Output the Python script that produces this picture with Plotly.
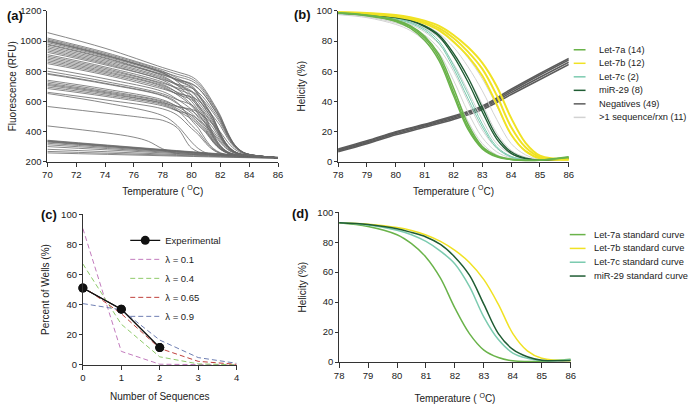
import plotly.graph_objects as go

FONT = "Liberation Sans, Arial, Helvetica, sans-serif"
W, H = 696, 404

# ---------------- Panel (a): raw melt curves (fluorescence) ----------------
T_A_UPPER = [70, 74, 78, 79, 80, 80.5, 81, 81.5, 82, 82.5, 83, 83.5, 84, 86]
RFU_UPPER = [
    [1056, 952, 824, 795, 764, 728, 667, 590, 506, 395, 312, 268, 248, 226],
    [1020, 925, 810, 780, 750, 715, 656, 580, 499, 391, 310, 267, 248, 226],
    [1012, 917, 800, 754, 706, 648, 574, 494, 388, 309, 267, 248, 243, 225],
    [1005, 910, 795, 765, 736, 702, 644, 571, 492, 387, 308, 266, 248, 226],
    [998, 904, 790, 742, 696, 639, 566, 489, 385, 307, 266, 248, 243, 225],
    [990, 898, 785, 737, 691, 634, 563, 486, 383, 307, 266, 248, 243, 225],
    [975, 885, 775, 742, 714, 682, 627, 556, 481, 381, 305, 265, 248, 226],
    [965, 876, 768, 708, 621, 552, 478, 379, 304, 265, 247, 242, 240, 225],
    [955, 867, 760, 713, 669, 616, 547, 474, 377, 303, 264, 247, 242, 225],
    [945, 858, 752, 706, 662, 610, 542, 470, 374, 302, 264, 247, 242, 225],
    [925, 842, 740, 682, 600, 535, 465, 371, 301, 263, 247, 242, 240, 225],
    [910, 828, 728, 682, 641, 591, 527, 459, 368, 299, 263, 247, 242, 225],
    [900, 819, 720, 690, 665, 636, 587, 524, 456, 366, 299, 263, 247, 226],
    [890, 810, 712, 658, 580, 518, 452, 364, 297, 262, 247, 242, 240, 225],
    [880, 801, 705, 661, 622, 574, 513, 448, 362, 296, 262, 247, 242, 225],
    [870, 793, 698, 644, 570, 510, 445, 360, 296, 261, 246, 242, 240, 225],
    [860, 784, 690, 647, 610, 563, 505, 442, 358, 295, 261, 246, 242, 225],
    [820, 750, 665, 614, 545, 489, 430, 351, 291, 260, 246, 242, 240, 225],
    [800, 732, 650, 611, 576, 534, 481, 423, 347, 290, 259, 246, 242, 225],
    [785, 720, 640, 592, 474, 419, 344, 288, 259, 246, 242, 240, 239, 225],
    [740, 682, 610, 566, 506, 457, 406, 337, 285, 257, 245, 242, 240, 225],
    [730, 672, 602, 568, 537, 500, 453, 402, 335, 284, 257, 245, 242, 225],
    [720, 664, 595, 552, 494, 448, 398, 332, 283, 257, 245, 242, 240, 225],
    [705, 651, 585, 542, 442, 394, 330, 282, 256, 245, 242, 240, 239, 225],
    [695, 642, 578, 537, 482, 438, 391, 328, 281, 256, 245, 242, 240, 225],
    [685, 633, 570, 537, 509, 476, 433, 387, 326, 280, 255, 245, 242, 225],
    [660, 610, 550, 509, 420, 377, 320, 277, 254, 244, 241, 240, 239, 225],
    [652, 590, 505, 440, 330, 285, 258, 248, 244, 242, 241, 240, 239, 225],
    [1000, 906, 790, 731, 640, 568, 490, 386, 308, 266, 248, 243, 240, 225],
    [980, 890, 778, 746, 718, 685, 630, 559, 483, 382, 306, 265, 248, 226],
    [935, 850, 745, 714, 688, 657, 605, 539, 468, 373, 302, 264, 247, 226],
    [850, 775, 682, 652, 629, 603, 557, 500, 438, 355, 294, 261, 246, 226],
    [780, 716, 636, 586, 522, 471, 416, 342, 288, 258, 245, 242, 240, 225],
    [712, 658, 590, 565, 547, 526, 490, 445, 396, 331, 282, 256, 245, 226],
]
T_A_MID = [70, 74, 76, 77, 78, 79, 80, 81, 82, 84, 86]
RFU_MID = [
    [566, 522, 500, 488, 474, 425, 290, 250, 246, 238, 225],
    [437, 392, 362, 335, 285, 255, 248, 245, 243, 236, 224],
]
T_A_LOW = [70, 82, 86]
RFU_LOW = [
    [342, 252, 229], [339, 250, 228], [336, 249, 228], [333, 247, 227],
    [330, 246, 227], [322, 244, 226], [312, 242, 226], [300, 239, 225],
    [282, 236, 224], [268, 233, 223], [258, 230, 222],
]

# ---------------- Panel (b): helicity of samples ----------------
T_B = [78, 79, 80, 80.5, 81, 81.5, 82, 82.5, 83, 83.5, 84, 84.5, 85, 86]
LET7A_B = [
    [98.5, 97, 93.5, 89.5, 82, 69, 46, 23, 9, 3.5, 1.5, 0.8, 1.0, 3.0],
    [98.5, 96.8, 93, 88.5, 80.5, 67, 44, 21.5, 8.5, 3.2, 1.4, 0.8, 1.0, 3.2],
    [98.7, 97.2, 94, 90.2, 83.2, 71, 49, 25, 10, 4, 1.6, 0.9, 1.1, 2.8],
]
LET7B_B = [
    [98.8, 98, 96.3, 94.5, 91.5, 87, 79.5, 70, 57, 38, 18, 7, 2.2, 1.5],
    [99, 98.3, 96.8, 95.2, 92.5, 88.5, 82, 73, 61.5, 44, 23, 9.5, 3, 1.5],
    [99, 98.5, 97.2, 95.8, 93.5, 90, 84, 76, 65.5, 50, 29, 12.5, 4, 1.5],
]
LET7C_B = [
    [98.3, 97.2, 95, 92.5, 88, 80, 64, 45, 25, 10, 3.5, 1.3, 1, 2.5],
    [98.2, 97, 94.5, 91.8, 87, 78.5, 62, 42, 23, 9, 3, 1.2, 1, 2.5],
]
MIR29_B = [
    [98.5, 97.5, 95.5, 93.5, 89.5, 83, 70, 53, 33, 15, 5.5, 2, 1, 2],
    [98.5, 97.6, 95.7, 93.8, 90, 84, 72, 56, 36, 17, 6.5, 2.3, 1, 2],
]
MULTI_B = [
    [97.8, 96, 92, 88.5, 82, 72, 54, 33, 16, 6.5, 2.5, 1.2, 1, 2],
    [98, 96.5, 93, 89.8, 84, 75, 60, 40, 21, 9, 3.5, 1.5, 1, 2],
    [98.2, 97, 94, 91, 86, 78, 65, 47, 28, 12, 5, 2, 1, 2],
    [98.4, 97.4, 95, 92.5, 88.5, 82, 71, 56, 38, 19, 7.5, 3, 1.3, 2],
    [98.6, 97.8, 95.8, 93.8, 90.5, 85, 76, 63, 47, 28, 12, 4.5, 1.6, 1.8],
    [98.8, 98.2, 96.5, 94.8, 92, 87.5, 80, 69, 55, 37, 18, 7, 2.2, 1.8],
    [97.5, 95.5, 91, 87, 80, 68, 48, 27, 12, 4.5, 1.8, 1, 1, 2],
]
T_NEG = [78, 79, 80, 81, 82, 83, 84, 85, 86]
NEG_B = [
    [6.5, 11.8, 17.8, 22.8, 28, 34.5, 44.5, 54.5, 64.5],
    [7.2, 12.5, 18.6, 23.6, 28.8, 35.5, 45.8, 56, 66],
    [7.8, 13.2, 19.3, 24.3, 29.6, 36.3, 47, 57.5, 67.5],
    [8.3, 13.8, 19.8, 24.8, 30.2, 37, 48, 58.5, 68.5],
]

# ---------------- Panel (c): sequences per well ----------------
SEQ_X = [0, 1, 2, 3, 4]
EXP_X = [0, 1, 2]
EXP_Y = [51, 37, 11.5]
LAMBDA_LABELS = ["λ = 0.1", "λ = 0.4", "λ = 0.65", "λ = 0.9"]
LAMBDA_Y = [
    [90.5, 9.0, 0.5, 0, 0],
    [67, 27, 5.4, 0.7, 0.1],
    [52, 34, 11, 2.4, 0.4],
    [40.7, 36.6, 16.5, 4.9, 1.1],
]
LAMBDA_COLORS = ["#c27bbd", "#8fca6a", "#c0403c", "#6f7fb3"]

# ---------------- Panel (d): standard curves ----------------
T_D = [78, 79, 80, 80.5, 81, 81.5, 82, 82.5, 83, 83.5, 84, 84.5, 85, 86]
STD_LABELS = ["Let-7a standard curve", "Let-7b standard curve",
              "Let-7c standard curve", "miR-29 standard curve"]
STD_Y = [
    [93, 90.5, 85, 79, 70, 56, 36, 19, 8, 3, 0.8, 0.4, 0.5, 1.8],
    [93, 92, 89.8, 87.8, 84.8, 80.5, 74.5, 66.5, 55, 38.5, 19, 7.5, 2.5, 0.8],
    [93, 91.5, 88, 85, 80.5, 74, 65.5, 50.5, 30, 15, 6, 2.5, 1, 1.5],
    [93, 91.8, 89, 86.5, 83.5, 78.5, 70, 58, 38.5, 19, 8.4, 3.5, 1.2, 1.0],
]

C_7A = "#6ab34a"
C_7B = "#f0e224"
C_7C = "#7ccbb0"
C_29 = "#1f5c33"
C_NEG = "#5c5c5c"
C_MULTI = "#d2d2d2"
C_A = "#6a6a6a"

B_LABELS = ["Let-7a (14)", "Let-7b (12)", "Let-7c (2)", "miR-29 (8)",
            "Negatives (49)", ">1 sequence/rxn (11)"]
B_COLORS = [C_7A, C_7B, C_7C, C_29, C_NEG, C_MULTI]
STD_COLORS = [C_7A, C_7B, C_7C, C_29]

fig = go.Figure()


def add_line(x, y, color, width, xa, ya):
    fig.add_trace(go.Scatter(x=x, y=y, mode="lines",
                             line=dict(color=color, width=width, shape="spline"),
                             xaxis=xa, yaxis=ya, showlegend=False, hoverinfo="skip"))


# (a)
for ys in RFU_LOW:
    add_line(T_A_LOW, ys, C_A, 0.8, "x", "y")
for ys in RFU_MID:
    add_line(T_A_MID, ys, C_A, 0.8, "x", "y")
for ys in RFU_UPPER:
    add_line(T_A_UPPER, ys, C_A, 0.8, "x", "y")

# (b)
for ys in NEG_B:
    add_line(T_NEG, ys, C_NEG, 1.6, "x2", "y2")
for ys in MULTI_B:
    add_line(T_B, ys, C_MULTI, 1.0, "x2", "y2")
for ys in LET7C_B:
    add_line(T_B, ys, C_7C, 1.0, "x2", "y2")
for ys in MIR29_B:
    add_line(T_B, ys, C_29, 1.3, "x2", "y2")
for ys in LET7B_B:
    add_line(T_B, ys, C_7B, 2.0, "x2", "y2")
for ys in LET7A_B:
    add_line(T_B, ys, C_7A, 1.5, "x2", "y2")

# (c)
fig.add_trace(go.Scatter(x=EXP_X, y=EXP_Y, mode="lines+markers", name="Experimental",
                         line=dict(color="#111111", width=1.2),
                         marker=dict(color="#111111", size=9),
                         xaxis="x3", yaxis="y3", cliponaxis=False, hoverinfo="skip"))
for lab, ys, col in zip(LAMBDA_LABELS, LAMBDA_Y, LAMBDA_COLORS):
    fig.add_trace(go.Scatter(x=SEQ_X, y=ys, mode="lines", name=lab,
                             line=dict(color=col, width=1, dash="5px,3px"),
                             xaxis="x3", yaxis="y3", cliponaxis=False, hoverinfo="skip"))
# re-draw experimental on top
fig.add_trace(go.Scatter(x=EXP_X, y=EXP_Y, mode="lines+markers", showlegend=False,
                         line=dict(color="#111111", width=1.2),
                         marker=dict(color="#111111", size=9),
                         xaxis="x3", yaxis="y3", cliponaxis=False, hoverinfo="skip"))

# (d)
for ys, col in zip(STD_Y, STD_COLORS):
    add_line(T_D, ys, col, 1.5, "x4", "y4")


def px_x(p):
    return p / W


def px_y(p):
    return 1 - p / H


TICKFONT = dict(family=FONT, size=9.5, color="#222222")
TITLEFONT = dict(family=FONT, size=10, color="#222222")


def axis(domain, rng, dtick, anchor, title, standoff, ticklen=4, tick0=None):
    d = dict(domain=domain, range=rng, dtick=dtick, anchor=anchor,
             showline=True, linecolor="#333333", linewidth=1,
             ticks="outside", ticklen=ticklen, tickwidth=1, tickcolor="#333333",
             showgrid=False, zeroline=False, tickfont=TICKFONT,
             title=dict(text=title, font=TITLEFONT, standoff=standoff))
    if tick0 is not None:
        d["tick0"] = tick0
    return d


TEMP_TITLE = "Temperature ( <sup>O</sup>C)"

fig.update_layout(
    width=W, height=H,
    margin=dict(l=0, r=0, t=0, b=0),
    paper_bgcolor="white", plot_bgcolor="white",
    font=dict(family=FONT, size=10, color="#222222"),
    xaxis=axis([px_x(43), px_x(277)], [70, 86], 2, "y", TEMP_TITLE, 8, 4, 70),
    yaxis=axis([px_y(160), px_y(5)], [200, 1200], 200, "x", "Fluorescence (RFU)", 1, 3),
    xaxis2=axis([px_x(338), px_x(572)], [78, 86], 1, "y2", TEMP_TITLE, 8),
    yaxis2=axis([px_y(160), px_y(5)], [0, 100], 20, "x2", "Helicity (%)", 8, 3),
    xaxis3=axis([px_x(79), px_x(235)], [0, 4], 1, "y3", "Number of Sequences", 10),
    yaxis3=axis([px_y(369), px_y(214)], [0, 100], 20, "x3", "Percent of Wells (%)", 9, 3),
    xaxis4=axis([px_x(339), px_x(574)], [78, 86], 1, "y4", TEMP_TITLE, 15, 5),
    yaxis4=axis([px_y(366), px_y(212)], [0, 100], 20, "x4", "Helicity (%)", 8, 3),
    showlegend=True,
    legend=dict(x=px_x(122), y=px_y(226), xanchor="left", yanchor="top",
                bgcolor="rgba(0,0,0,0)", borderwidth=0, tracegroupgap=0,
                font=dict(family=FONT, size=9.5, color="#222222"),
                itemwidth=30),
)

# manual legends for (b) and (d)
LEG_FONT = dict(family=FONT, size=9.3, color="#222222")
shapes = []
annotations = []
for i, (lab, col) in enumerate(zip(B_LABELS, B_COLORS)):
    yy = px_y(45 + i * 13.9)
    shapes.append(dict(type="line", xref="paper", yref="paper",
                       x0=px_x(577), x1=px_x(589), y0=yy, y1=yy,
                       line=dict(color=col, width=1.5)))
    annotations.append(dict(text=lab, xref="paper", yref="paper", x=px_x(601), y=yy,
                            xanchor="left", yanchor="middle", showarrow=False,
                            font=LEG_FONT))
for i, (lab, col) in enumerate(zip(STD_LABELS, STD_COLORS)):
    yy = px_y(235 + i * 14.2)
    shapes.append(dict(type="line", xref="paper", yref="paper",
                       x0=px_x(573), x1=px_x(589), y0=yy, y1=yy,
                       line=dict(color=col, width=1.5)))
    annotations.append(dict(text=lab, xref="paper", yref="paper", x=px_x(596), y=yy,
                            xanchor="left", yanchor="middle", showarrow=False,
                            font=LEG_FONT))

PANEL_LABELS = [("(a)", 0, 10), ("(b)", 291, 9), ("(c)", 35, 214), ("(d)", 289, 213)]
for txt, xp, yp in PANEL_LABELS:
    annotations.append(dict(text="<b>" + txt + "</b>", xref="paper", yref="paper",
                            x=px_x(xp), y=px_y(yp), xanchor="left", yanchor="middle",
                            showarrow=False,
                            font=dict(family=FONT, size=13, color="#111111")))

fig.update_layout(shapes=shapes, annotations=annotations)

fig.write_html("out.html",
               config={"displayModeBar": False},
               post_script="document.body.style.margin='0px';"
                           "document.body.style.overflow='hidden';")
